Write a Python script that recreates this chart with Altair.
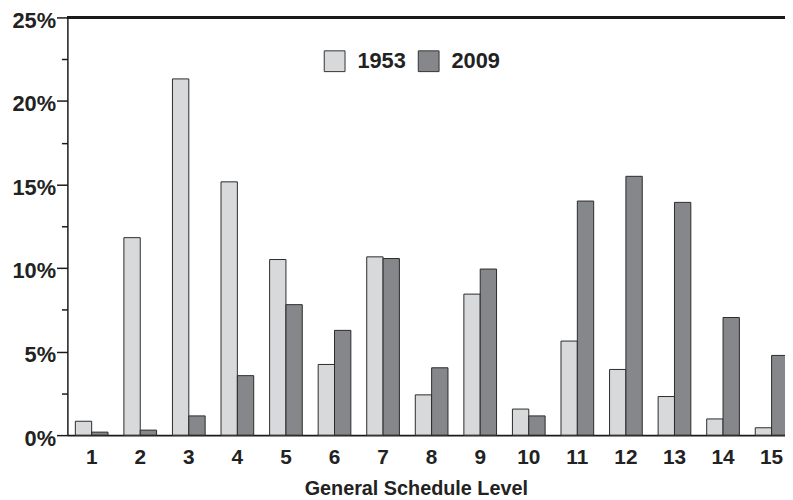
import altair as alt
import pandas as pd

levels = [str(i) for i in range(1, 16)]
years = ["1953", "2009"]
share_1953 = [0.83, 11.82, 21.32, 15.16, 10.51, 4.23, 10.67, 2.41, 8.44, 1.56, 5.63, 3.93, 2.31, 0.97, 0.44]
share_2009 = [0.18, 0.30, 1.15, 3.56, 7.81, 6.27, 10.57, 4.03, 9.94, 1.15, 14.01, 15.49, 13.93, 7.04, 4.77]
y_ticks = [0, 2.5, 5, 7.5, 10, 12.5, 15, 17.5, 20, 22.5, 25]
colors = ["#d8d9db", "#86878a"]

rows = []
for lvl, a, b in zip(levels, share_1953, share_2009):
    rows.append({"level": lvl, "year": "1953", "share": a})
    rows.append({"level": lvl, "year": "2009", "share": b})
df = pd.DataFrame(rows)

FONT = "Liberation Sans"

bars = alt.Chart(df).mark_bar(stroke="#2a2a2a", strokeWidth=1).encode(
    x=alt.X("level:N", sort=levels,
            scale=alt.Scale(range=[0, 736], paddingInner=0.327, paddingOuter=0.1635),
            axis=alt.Axis(title="General Schedule Level", labelAngle=0, tickSize=0,
                          labelPadding=12, labelFontSize=21, labelFont=FONT,
                          labelFontWeight="bold", labelColor="#222",
                          domainColor="#1a1a1a", domainWidth=2,
                          titleFont=FONT, titleFontSize=20, titleFontWeight="bold",
                          titleColor="#222", titleX=352, titleY=60,
                          titleBaseline="alphabetic", titleAnchor="middle")),
    xOffset=alt.XOffset("year:N", sort=years, scale=alt.Scale(paddingInner=0, paddingOuter=0)),
    y=alt.Y("share:Q",
            scale=alt.Scale(domain=[0, 25], nice=False),
            axis=alt.Axis(title=None, values=y_ticks,
                          labelExpr="datum.value % 5 === 0 ? datum.value + '%' : ''",
                          tickSize={"condition": {"test": "datum.value % 5 === 0", "value": 11}, "value": 6},
                          labelPadding=1, labelOffset=3, labelFontSize=22, labelFont=FONT,
                          labelFontWeight="bold", labelColor="#222",
                          tickColor="#1a1a1a", tickWidth=1.5,
                          domainColor="#1a1a1a", domainWidth=1.5, grid=False)),
    color=alt.Color("year:N", sort=years,
                    scale=alt.Scale(domain=years, range=colors),
                    legend=alt.Legend(title=None, orient="none", legendX=259, legendY=33,
                                      direction="horizontal", symbolType="square",
                                      symbolSize=441, symbolStrokeColor="#333",
                                      symbolStrokeWidth=1, labelFont=FONT,
                                      labelFontSize=22, labelFontWeight="bold",
                                      labelColor="#222", labelOffset=12,
                                      columnPadding=10, padding=0)),
)

top_line = alt.Chart(df).mark_rule(color="#1a1a1a", strokeWidth=1.5).encode(
    y=alt.datum(25)
)

chart = alt.layer(bars, top_line).properties(
    width=725, height=422,
    autosize=alt.AutoSizeParams(type="none"),
    padding={"left": 60, "top": 7, "right": 0, "bottom": 62},
).configure_view(stroke=None)

chart.save("out.html", embed_options={"renderer": "svg", "actions": False})
